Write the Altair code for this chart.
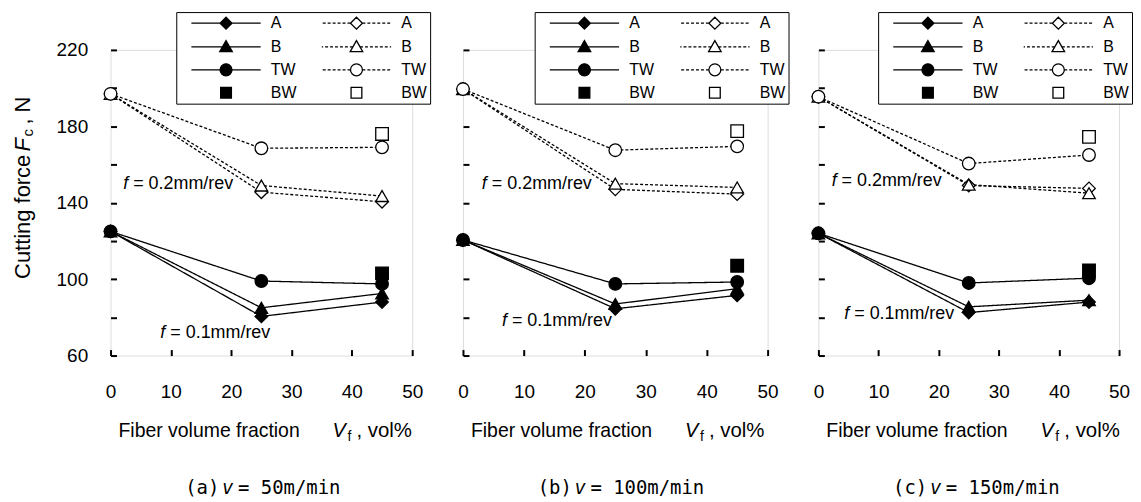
import altair as alt
import pandas as pd

# ---------------- data ----------------
VF = [0, 25, 45]          # fiber volume fraction, vol%
VF_BW = [45]              # BW only measured at 45 vol%

# (a) v = 50 m/min
A_F01_A = [125, 80.5, 88]
B_F01_A = [125, 85, 92.5]
TW_F01_A = [125, 99, 97.5]
BW_F01_A = [103]
A_F02_A = [197, 145.5, 140.5]
B_F02_A = [197, 149, 143.5]
TW_F02_A = [197, 168.5, 169]
BW_F02_A = [176]

# (b) v = 100 m/min
A_F01_B = [120.5, 84.5, 91.5]
B_F01_B = [120.5, 87, 95]
TW_F01_B = [120.5, 97.5, 98.5]
BW_F01_B = [107]
A_F02_B = [199.5, 147, 144.5]
B_F02_B = [199.5, 150, 148]
TW_F02_B = [199.5, 167.5, 169.5]
BW_F02_B = [177.5]

# (c) v = 150 m/min
A_F01_C = [124, 82.5, 88]
B_F01_C = [124, 85.5, 89]
TW_F01_C = [124, 98, 100.5]
BW_F01_C = [104.5]
A_F02_C = [195.5, 149, 147.5]
B_F02_C = [195.5, 149.5, 145]
TW_F02_C = [195.5, 160.5, 165]
BW_F02_C = [174.5]

PANEL_TAGS = ["(a)", "(b)", "(c)"]
SPEEDS = ["= 50m/min", "= 100m/min", "= 150m/min"]
MATERIALS = ["A", "B", "TW", "BW"]
FEEDS = ["0.1", "0.2"]
FEED_LABELS = ["= 0.1mm/rev", "= 0.2mm/rev"]
Y_TICKS = [60, 80, 100, 120, 140, 160, 180, 200, 220]
X_TICKS = [0, 10, 20, 30, 40, 50]

# annotation anchor points (data coordinates) for the feed labels
ANN_VF_F01 = [8.25, 6.4, 4.3]
ANN_FC_F01 = [72, 78, 81.5]
ANN_VF_F02 = [2.1, 3.1, 2.2]
ANN_FC_F02 = [149.6, 149.6, 151.2]

SERIES = [
    {"A": {"0.1": A_F01_A, "0.2": A_F02_A}, "B": {"0.1": B_F01_A, "0.2": B_F02_A},
     "TW": {"0.1": TW_F01_A, "0.2": TW_F02_A}, "BW": {"0.1": BW_F01_A, "0.2": BW_F02_A}},
    {"A": {"0.1": A_F01_B, "0.2": A_F02_B}, "B": {"0.1": B_F01_B, "0.2": B_F02_B},
     "TW": {"0.1": TW_F01_B, "0.2": TW_F02_B}, "BW": {"0.1": BW_F01_B, "0.2": BW_F02_B}},
    {"A": {"0.1": A_F01_C, "0.2": A_F02_C}, "B": {"0.1": B_F01_C, "0.2": B_F02_C},
     "TW": {"0.1": TW_F01_C, "0.2": TW_F02_C}, "BW": {"0.1": BW_F01_C, "0.2": BW_F02_C}},
]

# ---------------- styling ----------------
FONT = "Liberation Sans"
CAP_FONT = "DejaVu Sans Mono"
WIDTHS = [303, 306, 302]
H = 307
SHAPES = {"A": "diamond", "B": "triangle-up", "TW": "circle", "BW": "square"}
FILLS = {"0.1": "black", "0.2": "white"}
DASHES = {"0.1": [1, 0], "0.2": [3, 2]}
LEGEND_X = [66, 72, 60]
LEGEND_EXTRA = [5, 1, 0]

# legend symbols: custom paths (line + marker), units of marker half-size
L = 5.8


def dash_segments(a, b, d=0.5, g=0.33):
    out = []
    x = a
    while x < b - 1e-6:
        e = min(x + d, b)
        out.append((x, e))
        x = e + g
    return out


def line_path(edge, dashed):
    if not dashed:
        return f"M{-L},0H{-edge}M{edge},0H{L}"
    p = ""
    for s, e in dash_segments(edge, L):
        p += f"M{-e:.2f},0H{-s:.2f}M{s:.2f},0H{e:.2f}"
    return p


MARKER_PATHS = {
    "A": ("M0,-1L1,0L0,1L-1,0Z", 1.0),
    "B": ("M0,-1.05L1.05,0.8L-1.05,0.8Z", 0.6),
    "TW": ("M1,0A1,1,0,1,1,-1,0A1,1,0,1,1,1,0Z", 1.0),
    "BW": ("M-0.9,-0.9H0.9V0.9H-0.9Z", 0.9),
}
# legend entries are laid out column by column: solid column first, dashed second
KEYS, PATHS, KFILLS = [], [], []
for feed in FEEDS:
    for m in MATERIALS:
        KEYS.append(f"{m}|{'s' if feed == '0.1' else 'd'}")
        mp, edge = MARKER_PATHS[m]
        PATHS.append(mp if m == "BW" else line_path(edge, feed == "0.2") + mp)
        KFILLS.append(FILLS[feed])


def text_at(txt, x, y, size, font=FONT, style="normal", angle=0, dy=0, align="left"):
    return alt.Chart(pd.DataFrame({"t": [txt]})).mark_text(
        align=align, baseline="middle", font=font, fontSize=size, fontStyle=style,
        angle=angle, dy=dy, color="black"
    ).encode(x=alt.value(x), y=alt.value(y), text="t:N")


def panel(i):
    rows = []
    for m in MATERIALS:
        for feed in FEEDS:
            xs_ = VF_BW if m == "BW" else VF
            for vf, fc in zip(xs_, SERIES[i][m][feed]):
                rows.append({"Vf": vf, "Fc": fc, "mat": m, "feed": feed})
    df = pd.DataFrame(rows)

    xenc = alt.X("Vf:Q", scale=alt.Scale(domain=[0, 50], nice=False, zero=False),
                 axis=alt.Axis(values=X_TICKS, title=None, offset=-6, tickSize=6,
                               labelPadding=27, labelFontSize=19, labelFont=FONT,
                               labelColor="black", domain=False, grid=False, labelFlush=False,
                               tickColor="black", tickWidth=2))
    yenc = alt.Y("Fc:Q", scale=alt.Scale(domain=[60, 220], nice=False, zero=False),
                 axis=alt.Axis(values=Y_TICKS, title=None, offset=-6, tickSize=6,
                               labelPadding=23, labelFontSize=19, labelFont=FONT,
                               labelColor="black", domain=False, grid=False, labelFlush=False,
                               tickColor="black", tickWidth=2, labels=(i == 0),
                               labelExpr="datum.value % 40 == 20 ? datum.label : ''"))
    base = alt.Chart(df).encode(x=xenc, y=yenc)

    layers = []
    for feed in FEEDS:
        for m in ["A", "B", "TW"]:
            layers.append(
                base.transform_filter(f"datum.mat == '{m}' && datum.feed == '{feed}'")
                .mark_line(color="black", strokeWidth=1.3, strokeDash=DASHES[feed])
            )
    for feed in FEEDS:
        for m in MATERIALS:
            layers.append(
                base.transform_filter(f"datum.mat == '{m}' && datum.feed == '{feed}'")
                .mark_point(shape=SHAPES[m], size=160, filled=True, fill=FILLS[feed],
                            stroke="black", strokeWidth=1.3, opacity=1)
            )

    # feed annotations
    ann = pd.DataFrame({
        "Vf": [ANN_VF_F01[i], ANN_VF_F02[i]],
        "Fc": [ANN_FC_F01[i], ANN_FC_F02[i]],
        "f": ["f", "f"],
        "rest": FEED_LABELS,
    })
    abase = alt.Chart(ann).encode(x=xenc, y=yenc)
    layers.append(abase.mark_text(align="left", baseline="middle", font=FONT, fontSize=18,
                                  fontStyle="italic", color="black").encode(text="f:N"))
    layers.append(abase.mark_text(align="left", baseline="middle", font=FONT, fontSize=18,
                                  dx=10, color="black").encode(text="rest:N"))

    # legend (library legend with custom line+marker symbols)
    extra = " " * LEGEND_EXTRA[i]
    leg = alt.Legend(
        title=None, orient="none", legendX=LEGEND_X[i], legendY=-38, columns=2,
        symbolSize=144, symbolOffset=39, labelOffset=37, columnPadding=13,
        rowPadding=6, padding=3, strokeColor="black", fillColor="white",
        labelFont=FONT, labelFontSize=16, labelColor="black",
        symbolStrokeWidth=1.3,
        labelExpr=f"split(datum.label, '|')[0] + (split(datum.label, '|')[1] == 'd' ? '{extra}' : '')",
    )
    legend_layer = alt.Chart(pd.DataFrame({"key": KEYS})).transform_filter("false").mark_point(
        filled=True, strokeWidth=1.3, opacity=1
    ).encode(
        shape=alt.Shape("key:N", scale=alt.Scale(domain=KEYS, range=PATHS), legend=leg),
        fill=alt.Fill("key:N", scale=alt.Scale(domain=KEYS, range=KFILLS), legend=leg),
        stroke=alt.Stroke("key:N", scale=alt.Scale(domain=KEYS, range=["black"] * len(KEYS)), legend=leg),
    )
    layers.append(legend_layer)

    # x-axis title and caption
    layers += [
        text_at("Fiber volume fraction", 8, H + 76, 19.5),
        text_at("V", 223, H + 76, 20, style="italic"),
        text_at("f", 238, H + 76, 14, dy=6),
        text_at(", vol%", 247, H + 76, 20.5),
        text_at(PANEL_TAGS[i], 75, H + 133, 19, font=CAP_FONT),
        text_at("v", 112, H + 133, 19, font=CAP_FONT, style="italic"),
        text_at(SPEEDS[i], 128, H + 133, 19, font=CAP_FONT),
    ]
    if i == 0:
        layers += [
            text_at("Cutting force", -88, 230, 22, angle=270),
            text_at("F", -88, 102, 22, angle=270, style="italic"),
            text_at("c", -88, 87, 15, angle=270, dy=5),
            text_at(", N", -88, 75, 22, angle=270),
        ]

    return alt.layer(*layers).resolve_scale(
        shape="independent", fill="independent", stroke="independent"
    ).properties(width=WIDTHS[i], height=H)


chart = alt.hconcat(panel(0), panel(1), panel(2), spacing=51, bounds="flush").resolve_scale(
    shape="independent", fill="independent", stroke="independent"
).properties(
    padding={"left": 3, "top": 2, "right": 0, "bottom": 0}
).configure_view(stroke="black", strokeWidth=2).configure(background="white")

chart.save("out.html", embed_options={"renderer": "svg", "actions": False})
